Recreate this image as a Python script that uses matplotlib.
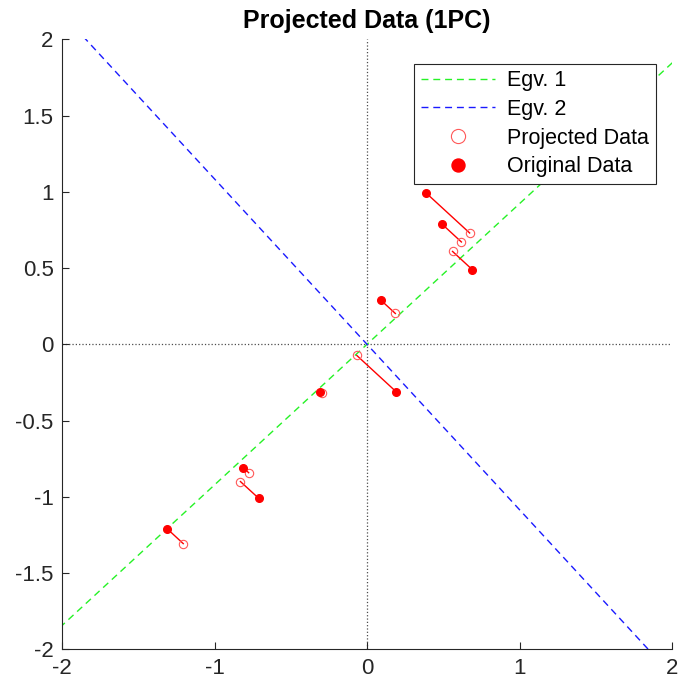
import matplotlib
matplotlib.use("Agg")
import matplotlib.pyplot as plt
import numpy as np

plt.rcParams['font.family'] = ['Liberation Sans', 'DejaVu Sans']
plt.rcParams['axes.unicode_minus'] = False

# Original (mean-centred) data
orig_x = [0.69, -1.31, 0.39, 0.09, 1.29, 0.49, 0.19, -0.81, -0.31, -0.71]
orig_y = [0.49, -1.21, 0.99, 0.29, 1.09, 0.79, -0.31, -0.81, -0.31, -1.01]
# Projected onto first principal component
proj_x = [0.561, -1.205, 0.673, 0.186, 1.136, 0.619, -0.067, -0.776, -0.297, -0.830]
proj_y = [0.609, -1.307, 0.730, 0.202, 1.232, 0.671, -0.073, -0.842, -0.322, -0.900]
# Eigenvector directions as drawn
egv1_dir = [0.7352, 0.6779]
egv2_dir = [-0.6779, 0.7352]

xticks = [-2, -1, 0, 1, 2]
yticks = [-2, -1.5, -1, -0.5, 0, 0.5, 1, 1.5, 2]
ytick_labels = ['-2', '-1.5', '-1', '-0.5', '0', '0.5', '1', '1.5', '2']

fig = plt.figure(figsize=(6.79, 6.87), dpi=100)
ax = fig.add_axes([62/679, 1-649.3/687, 610/679, 610/687])

t = np.array([-4, 4])
ax.axhline(0, color='0.3', ls=':', lw=0.9, zorder=1)
ax.axvline(0, color='0.3', ls=':', lw=0.9, zorder=1)
ax.plot(t*egv1_dir[0], t*egv1_dir[1], color=(0.15, 0.95, 0.15), ls=(0, (5, 3.5)), lw=1.0, label='Egv. 1', zorder=2)
ax.plot(t*egv2_dir[0], t*egv2_dir[1], color=(0.1, 0.1, 1.0), ls=(0, (5, 3.5)), lw=1.0, label='Egv. 2', zorder=2)

for ox, oy, px, py in zip(orig_x, orig_y, proj_x, proj_y):
    ax.plot([ox, px], [oy, py], color='red', lw=1.0, zorder=3)

ax.plot(proj_x, proj_y, 'o', ls='none', mfc='none', mec=(1, 0.35, 0.35), mew=0.8, ms=6, label='Projected Data', zorder=4)
ax.plot(orig_x, orig_y, 'o', ls='none', mfc='red', mec='red', ms=5.5, label='Original Data', zorder=4)

ax.set_xlim(-2, 2)
ax.set_ylim(-2, 2)
ax.set_xticks(xticks)
ax.set_yticks(yticks)
ax.set_yticklabels(ytick_labels)
ax.tick_params(direction='in', length=5, width=0.8, labelsize=16, colors='0.15', pad=6)
for s in ['top', 'right']:
    ax.spines[s].set_visible(False)
for s in ['left', 'bottom']:
    ax.spines[s].set_color('0.15')
    ax.spines[s].set_linewidth(0.8)

ax.set_title('Projected Data (1PC)', fontsize=18, fontweight='bold', pad=8)

leg = ax.legend(loc='upper right', bbox_to_anchor=(0.973, 0.960), borderaxespad=0,
                fontsize=15.5, handlelength=3.45, handletextpad=0.56, labelspacing=0.36,
                borderpad=0.3, numpoints=1, markerscale=1.7, fancybox=False,
                framealpha=1, edgecolor='0.15')
leg.get_frame().set_linewidth(0.8)
leg.set_zorder(10)

fig.savefig('out.png', dpi=100)
